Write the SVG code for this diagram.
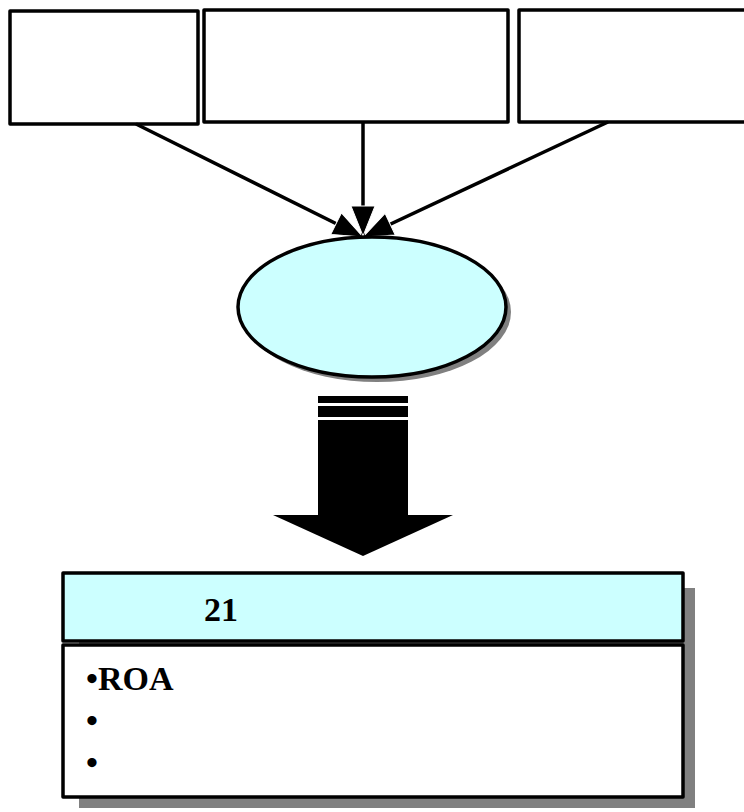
<svg xmlns="http://www.w3.org/2000/svg" width="744" height="812" viewBox="0 0 744 812">
<style>
.box{fill:#fff;stroke:#000;stroke-width:3.5;stroke-linejoin:round}
.cyan{fill:#CCFFFF}
.shadow{fill:#808080}
.conn{stroke:#000;stroke-width:3.5;fill:none}
.txt{font-family:"Liberation Serif","Times New Roman",serif;font-weight:bold;font-size:34px;fill:#000}
</style>
<defs>
<marker id="ah" markerUnits="userSpaceOnUse" markerWidth="34" markerHeight="28" viewBox="0 0 34 28" refX="31" refY="14" orient="auto">
<path d="M1,2 L31,14 L1,26 Z" fill="#000" stroke="#fff" stroke-width="1"/>
</marker>
</defs>
<rect width="744" height="812" fill="#fff"/>
<g id="box1"><rect class="box" x="10" y="11" width="188" height="113"/></g>
<g id="box2"><rect class="box" x="204" y="10" width="304" height="112"/></g>
<g id="box3"><rect class="box" x="519" y="10" width="240" height="112"/></g>
<g id="connectors">
<line class="conn" x1="136" y1="124" x2="363" y2="237" marker-end="url(#ah)"/>
<line class="conn" x1="608" y1="122" x2="363" y2="237" marker-end="url(#ah)"/>
<line class="conn" x1="363" y1="122" x2="363" y2="236" marker-end="url(#ah)"/>
</g>
<g id="ellipse">
<ellipse class="shadow" cx="377" cy="312" rx="134" ry="70"/>
<ellipse cx="372" cy="307" rx="134" ry="70" fill="#CCFFFF" stroke="#000" stroke-width="3.5"/>
</g>
<g id="bigarrow">
<rect x="318" y="396" width="90" height="7" fill="#000"/>
<rect x="318" y="406" width="90" height="11" fill="#000"/>
<rect x="318" y="420" width="90" height="96" fill="#000"/>
<polygon points="273,515 453,515 363,556" fill="#000"/>
</g>
<g id="result">
<rect class="shadow" x="79" y="588" width="616" height="220"/>
<rect class="box cyan" x="63" y="573" width="620" height="68"/>
<rect class="box" x="63" y="645" width="620" height="152"/>
<text class="txt" x="204" y="621">21</text>
<text class="txt" x="86" y="690">•ROA</text>
<text class="txt" x="86" y="732">•</text>
<text class="txt" x="86" y="774">•</text>
</g>
</svg>
